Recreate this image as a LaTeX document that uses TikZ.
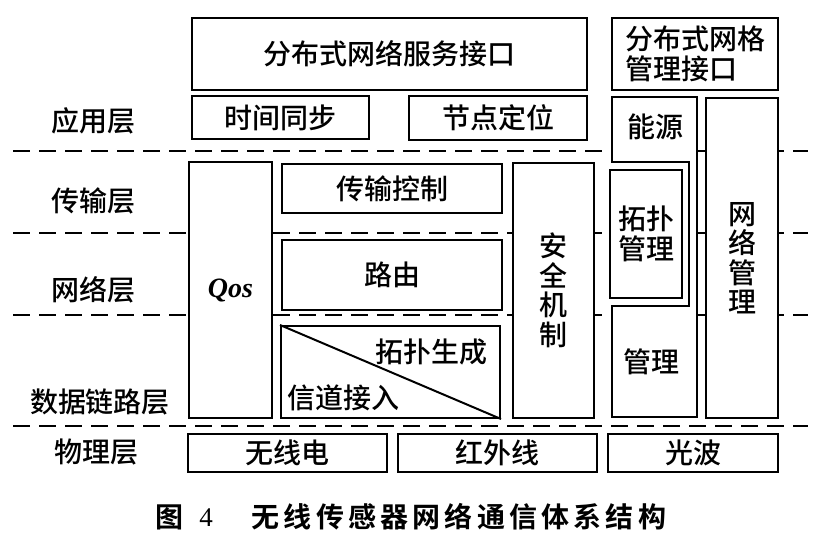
\documentclass[tikz,border=0pt]{standalone}
\usepackage{fontspec}
\setmainfont{Liberation Serif}
\newfontfamily\cjk{Noto Sans CJK SC Medium}
\newfontfamily\cjkb{Noto Sans CJK SC Bold}
\begin{document}
\begin{tikzpicture}[x=1pt,y=-1pt,
  box/.style={draw, line width=2pt, fill=white, inner sep=0pt},
  txt/.style={font=\cjk\fontsize{28}{30}\selectfont, inner sep=0pt},
  vtxt/.style={font=\cjk\fontsize{28}{29.5}\selectfont, inner sep=0pt, align=center},
  lbl/.style={font=\cjk\fontsize{28}{30}\selectfont, inner sep=0pt},
  layer/.style={line width=2pt, dash pattern=on 17pt off 9pt}]
\useasboundingbox (0,0) rectangle (822,543);
% layer separators
\foreach \n/\yy in {a/151,b/233,c/315,d/426}{
  \coordinate (sep\n l) at (13,\yy);
  \coordinate (sep\n r) at (808,\yy);
  \draw[layer] (sep\n l) -- (sep\n r);
}
% layer labels
\node[lbl] (lapp) at (93,121) {应用层};
\node[lbl] (ltrans) at (93,201) {传输层};
\node[lbl] (lnet) at (93,290) {网络层};
\node[lbl] (llink) at (100,402) {数据链路层};
\node[lbl] (lphy) at (96,452) {物理层};
% application layer
\node[box, txt, minimum width=395, minimum height=72, anchor=north west] (svc) at (191,17) {分布式网络服务接口};
\node[box, txt, align=left, minimum width=166, minimum height=72, anchor=north west] (grid) at (611,17) {分布式网格\\管理接口};
\node[box, txt, minimum width=177, minimum height=43, anchor=north west] (time) at (191,95) {时间同步};
\node[box, txt, minimum width=178, minimum height=44, anchor=north west] (loc) at (408,95) {节点定位};
% middle layers
\node[box, minimum width=83, minimum height=256, anchor=north west, font=\fontsize{28}{30}\selectfont\bfseries\itshape] (qos) at (188,161) {Qos};
\node[box, txt, minimum width=220, minimum height=49, anchor=north west] (trans) at (281,163) {传输控制};
\node[box, txt, minimum width=220, minimum height=70, anchor=north west] (route) at (281,239) {路由};
\node[box, minimum width=219, minimum height=92, anchor=north west] (topo) at (280,325) {};
\draw[line width=2pt] (topo.north west) -- (topo.south east);
\node[txt] (topogen) at (431,352) {拓扑生成};
\node[txt] (chan) at (343,398) {信道接入};
\node[box, vtxt, minimum width=81, minimum height=255, anchor=north west] (sec) at (512,162) {安\\全\\机\\制};
% management column
\fill[white] (609,97) rectangle (697,417);
\draw[line width=2pt, line join=miter] (612,162) -- (612,97) -- (697,97) -- (697,417) -- (612,417) -- (612,306) -- (689,306) -- (689,162) -- cycle;
\node[txt] (energy) at (655,127) {能源};
\node[box, vtxt, minimum width=72, minimum height=128, anchor=north west] (topomgmt) at (609,169) {拓扑\\管理};
\node[txt] (mgmt) at (651,362) {管理};
\node[box, vtxt, minimum width=72, minimum height=320, anchor=north west] (netmgmt) at (705,97) {网\\络\\管\\理};
% physical layer
\node[box, txt, minimum width=199, minimum height=38, anchor=north west] (radio) at (187,433) {无线电};
\node[box, txt, minimum width=199, minimum height=38, anchor=north west] (ir) at (397,433) {红外线};
\node[box, txt, minimum width=170, minimum height=38, anchor=north west] (light) at (607,433) {光波};
% caption
\node[inner sep=0pt, font=\cjkb\fontsize{28}{30}\selectfont] (fig) at (169,517) {图};
\node[inner sep=0pt, font=\fontsize{27}{30}\selectfont] (fignum) at (206,518) {4};
\node[inner sep=0pt, font=\cjkb\fontsize{28}{30}\selectfont\addfontfeature{LetterSpace=15}] (cap) at (459,517) {无线传感器网络通信体系结构};
\end{tikzpicture}
\end{document}
